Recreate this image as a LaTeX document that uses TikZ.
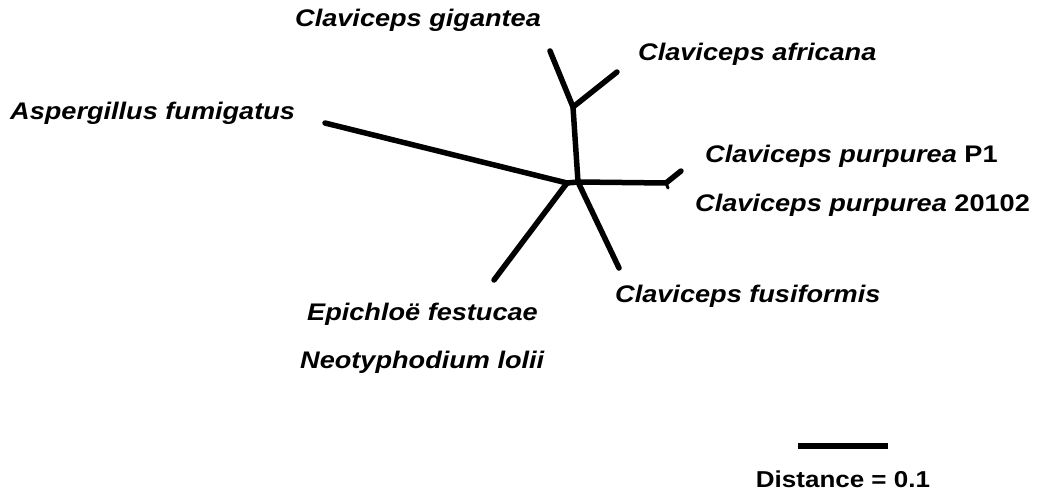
\documentclass[tikz,border=0pt]{standalone}
\usepackage{fontspec}
\setmainfont{Liberation Sans}
\newcommand{\stretchtxt}[1]{\scalebox{1.13}[1]{#1}}
\begin{document}
\begin{tikzpicture}[x=1pt,y=-1pt,
  br/.style={line width=5.5pt,line cap=round,line join=round},
  lab/.style={anchor=base west,inner sep=0pt,font=\fontsize{24}{28}\selectfont\bfseries\itshape},
  sclab/.style={anchor=base,inner sep=0pt,font=\fontsize{23}{27}\selectfont\bfseries}]
\useasboundingbox (0,0) rectangle (1038,494);
% internal nodes
\coordinate (a) at (567,183);
\coordinate (b) at (578,182);
\coordinate (c) at (573,107);
\coordinate (d) at (666,183);
% leaves
\coordinate (asp) at (325,123);
\coordinate (gig) at (550,51);
\coordinate (afr) at (617,72);
\coordinate (p1) at (681,171);
\coordinate (p2) at (668,188);
\coordinate (fus) at (619,268);
\coordinate (epi) at (494,280);
\draw[br] (asp) -- (a) -- (b);
\draw[br] (epi) -- (a);
\draw[br] (b) -- (c) -- (gig);
\draw[br] (c) -- (afr);
\draw[br] (b) -- (d) -- (p1);
\draw[br,line width=3pt] (d) -- (p2);
\draw[br] (b) -- (fus);
% labels
\node[lab] (Lgig) at (295,27) {\stretchtxt{Claviceps gigantea}};
\node[lab] (Lafr) at (638,61) {\stretchtxt{Claviceps africana}};
\node[lab] (Lasp) at (10,120) {\stretchtxt{Aspergillus fumigatus}};
\node[lab] (Lp1) at (705,163) {\stretchtxt{Claviceps purpurea \upshape P1}};
\node[lab] (Lp2) at (695,212) {\stretchtxt{Claviceps purpurea \upshape 20102}};
\node[lab] (Lfus) at (615,302) {\stretchtxt{Claviceps fusiformis}};
\node[lab] (Lepi) at (307,320) {\stretchtxt{Epichloë festucae}};
\node[lab] (Lneo) at (300,368) {\stretchtxt{Neotyphodium lolii}};
% scale bar
\coordinate (s1) at (798,446);
\coordinate (s2) at (888,446);
\draw[line width=6pt] (s1) -- (s2);
\node[sclab] (Ldist) at (843,487) {\stretchtxt{Distance = 0.1}};
\end{tikzpicture}
\end{document}
